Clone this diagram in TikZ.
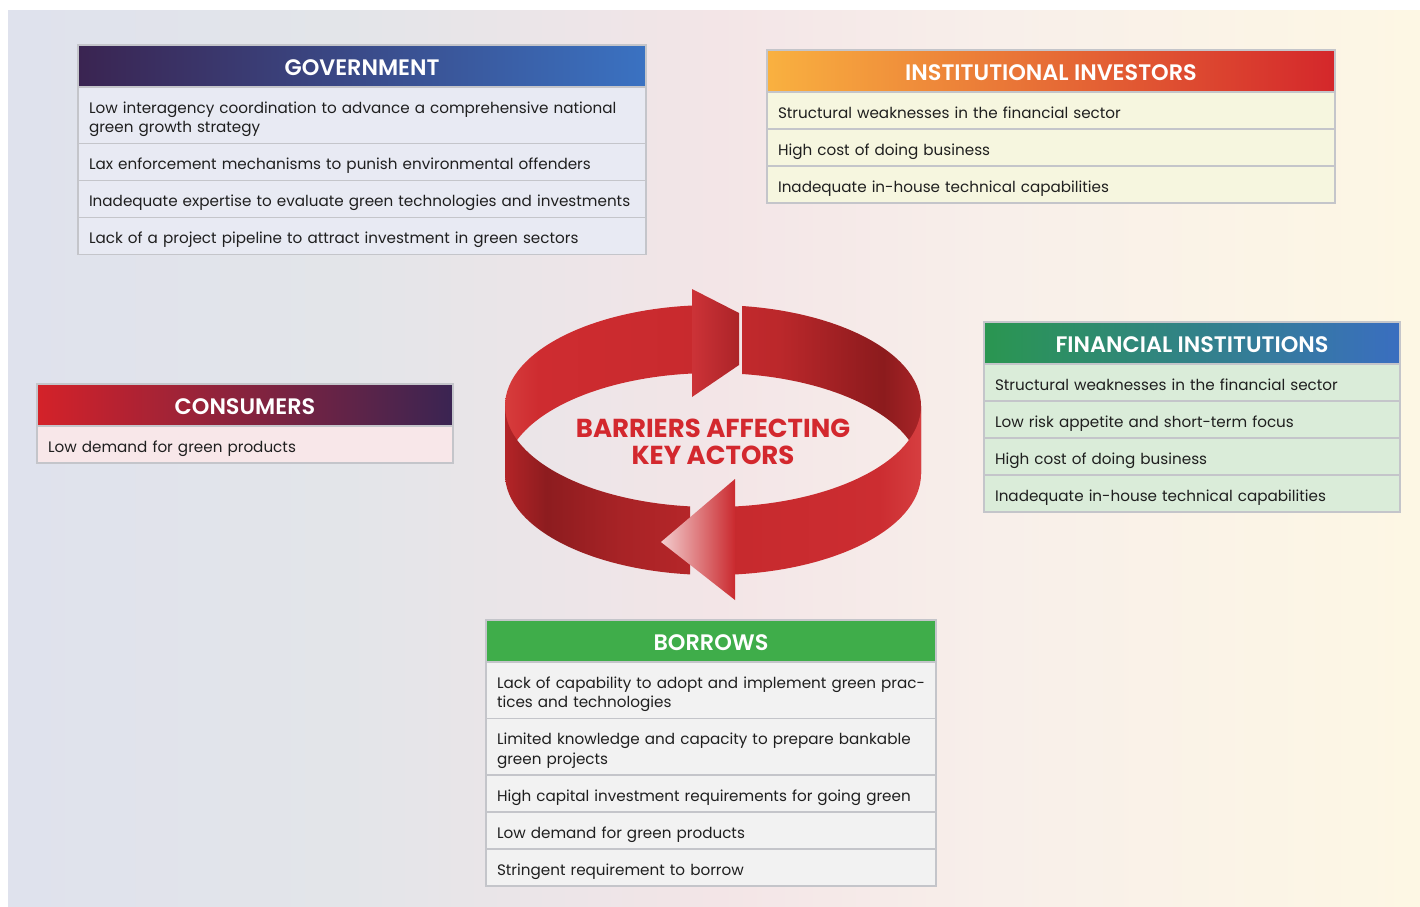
\documentclass[tikz,border=0pt]{standalone}
\usepackage{fontspec}
\setmainfont{Poppins}[BoldFont={Poppins SemiBold}]
\newfontfamily\titlefont{Poppins Bold}
\usetikzlibrary{positioning}

\definecolor{rim}{HTML}{C4C5CA}
\definecolor{govA}{HTML}{3A2451}
\definecolor{govB}{HTML}{3A72C2}
\definecolor{govrow}{HTML}{E8EAF3}
\definecolor{invA}{HTML}{F9B140}
\definecolor{invM}{HTML}{E77F35}
\definecolor{invB}{HTML}{D4272B}
\definecolor{invrow}{HTML}{F6F6DF}
\definecolor{finA}{HTML}{2A9650}
\definecolor{finM}{HTML}{2E8A78}
\definecolor{finB}{HTML}{3A6EC0}
\definecolor{finrow}{HTML}{DAECD9}
\definecolor{conA}{HTML}{D42229}
\definecolor{conM}{HTML}{9C2A3C}
\definecolor{conB}{HTML}{3A2452}
\definecolor{conrow}{HTML}{F8E7E9}
\definecolor{borA}{HTML}{3FAD4A}
\definecolor{borrow}{HTML}{F2F2F2}
\definecolor{titlered}{HTML}{D3282E}
\definecolor{headred}{HTML}{CA2A2F}
\definecolor{headpink}{HTML}{F3CDCE}

% backdrop and ribbon colour ramps
\definecolor{bgA}{HTML}{DFE2ED}
\definecolor{bgB}{HTML}{E3E5E9}
\definecolor{bgC}{HTML}{F3E5E7}
\definecolor{bgD}{HTML}{F8EFEA}
\definecolor{bgE}{HTML}{FDF7E4}
\pgfdeclarehorizontalshading{backdrop}{100bp}{color(0bp)=(bgA); color(25bp)=(bgA);
  color(37bp)=(bgB); color(50bp)=(bgC); color(60bp)=(bgD); color(75bp)=(bgE); color(100bp)=(bgE)}
\pgfdeclarehorizontalshading{ringback}{100bp}{color(0bp)=(rgb,255:red,214;green,60;blue,60);
  color(25bp)=(rgb,255:red,214;green,60;blue,60); color(29bp)=(rgb,255:red,206;green,44;blue,48);
  color(48bp)=(rgb,255:red,200;green,42;blue,46); color(58bp)=(rgb,255:red,187;green,40;blue,43);
  color(67.5bp)=(rgb,255:red,150;green,29;blue,32); color(70.5bp)=(rgb,255:red,140;green,27;blue,29);
  color(75bp)=(rgb,255:red,168;green,36;blue,39); color(100bp)=(rgb,255:red,168;green,36;blue,39)}
\pgfdeclarehorizontalshading{ringfront}{100bp}{color(0bp)=(rgb,255:red,179;green,36;blue,39);
  color(25bp)=(rgb,255:red,179;green,36;blue,39); color(30bp)=(rgb,255:red,141;green,28;blue,31);
  color(39bp)=(rgb,255:red,168;green,35;blue,38); color(47bp)=(rgb,255:red,181;green,38;blue,41);
  color(53bp)=(rgb,255:red,199;green,42;blue,46); color(70bp)=(rgb,255:red,204;green,45;blue,49);
  color(75bp)=(rgb,255:red,214;green,62;blue,64); color(100bp)=(rgb,255:red,214;green,62;blue,64)}

\tikzset{
  boxhead/.style={draw=rim, line width=1.2pt, outer sep=0pt, anchor=north west,
    minimum height=42, text height=19.5, text depth=0, text=white,
    font=\bfseries\fontsize{22.4}{24}\selectfont},
  barrier/.style={draw=rim, line width=1.2pt, outer sep=0pt, anchor=north,
    inner xsep=11, inner ysep=6.5, align=left, text=black!88,
    font=\fontsize{15.2}{19.5}\selectfont,
    execute at begin node={\rule{0pt}{19.5pt}},
    execute at end node={\rule[-4.5pt]{0pt}{4.5pt}}},
}

\begin{document}
\begin{tikzpicture}[x=1pt,y=-1pt]
  \useasboundingbox (0,0) rectangle (1420,906);
  \fill[white] (0,0) rectangle (1420,906);
  \shade[shading=backdrop] (8,10) rectangle (1420,906);

  % the ribbon: inner side at the back, outer side in front
  \foreach \a/\b in {480/692, 742/940} {
    \begin{scope}
      \clip (\a,260) rectangle (\b,600);
      \shade[shading=ringback] (505,406) arc[start angle=180,end angle=360,x radius=208,y radius=101]
        -- (921,474) arc[start angle=360,end angle=180,x radius=208,y radius=101] -- cycle;
    \end{scope}
  }
  \shade[left color=headred!96!white, right color=headred!85!black]
    (692,289) -- (739,313) -- (739,365) -- (692,397) -- cycle;
  \foreach \a/\b in {480/690, 735/940} {
    \begin{scope}
      \clip (\a,380) rectangle (\b,600);
      \shade[shading=ringfront] (505,406) arc[start angle=180,end angle=0,x radius=208,y radius=101]
        -- (921,474) arc[start angle=0,end angle=180,x radius=208,y radius=101] -- cycle;
    \end{scope}
  }
  \shade[left color=headpink, right color=headred]
    (735,479) -- (661,542) -- (735,600) -- cycle;

  \node[text=titlered, align=center, font=\titlefont\fontsize{26}{27}\selectfont] (barriers)
    at (713,442) {BARRIERS AFFECTING\\KEY ACTORS};

  % government
  \node[boxhead, minimum width=568, left color=govA, right color=govB] (gov0) at (78,45) {GOVERNMENT};
  \foreach \txt [count=\i] in {{Low interagency coordination to advance a comprehensive national\\green growth strategy},
      {Lax enforcement mechanisms to punish environmental offenders},
      {Inadequate expertise to evaluate green technologies and investments},
      {Lack of a project pipeline to attract investment in green sectors}} {
    \pgfmathtruncatemacro\j{\i-1}
    \node[barrier, fill=govrow, text width=546, below=0pt of gov\j] (gov\i) {\txt};
  }

  % institutional investors
  \node[boxhead, minimum width=568, left color=invA, middle color=invM, right color=invB] (inv0)
    at (767,50) {INSTITUTIONAL INVESTORS};
  \foreach \txt [count=\i] in {{Structural weaknesses in the financial sector},
      {High cost of doing business},
      {Inadequate in-house technical capabilities}} {
    \pgfmathtruncatemacro\j{\i-1}
    \node[barrier, fill=invrow, text width=546, below=0pt of inv\j] (inv\i) {\txt};
  }

  % financial institutions
  \node[boxhead, minimum width=416, left color=finA, middle color=finM, right color=finB] (fin0)
    at (984,322) {FINANCIAL INSTITUTIONS};
  \foreach \txt [count=\i] in {{Structural weaknesses in the financial sector},
      {Low risk appetite and short-term focus},
      {High cost of doing business},
      {Inadequate in-house technical capabilities}} {
    \pgfmathtruncatemacro\j{\i-1}
    \node[barrier, fill=finrow, text width=394, below=0pt of fin\j] (fin\i) {\txt};
  }

  % consumers
  \node[boxhead, minimum width=416, left color=conA, middle color=conM, right color=conB] (con0)
    at (37,384) {CONSUMERS};
  \node[barrier, fill=conrow, text width=394, below=0pt of con0] (con1) {Low demand for green products};

  % borrowers
  \node[boxhead, minimum width=450, fill=borA] (bor0) at (486,620) {BORROWS};
  \foreach \txt [count=\i] in {{Lack of capability to adopt and implement green prac-\\tices and technologies},
      {Limited knowledge and capacity to prepare bankable\\green projects},
      {High capital investment requirements for going green},
      {Low demand for green products},
      {Stringent requirement to borrow}} {
    \pgfmathtruncatemacro\j{\i-1}
    \node[barrier, fill=borrow, text width=428, below=0pt of bor\j] (bor\i) {\txt};
  }
\end{tikzpicture}
\end{document}
